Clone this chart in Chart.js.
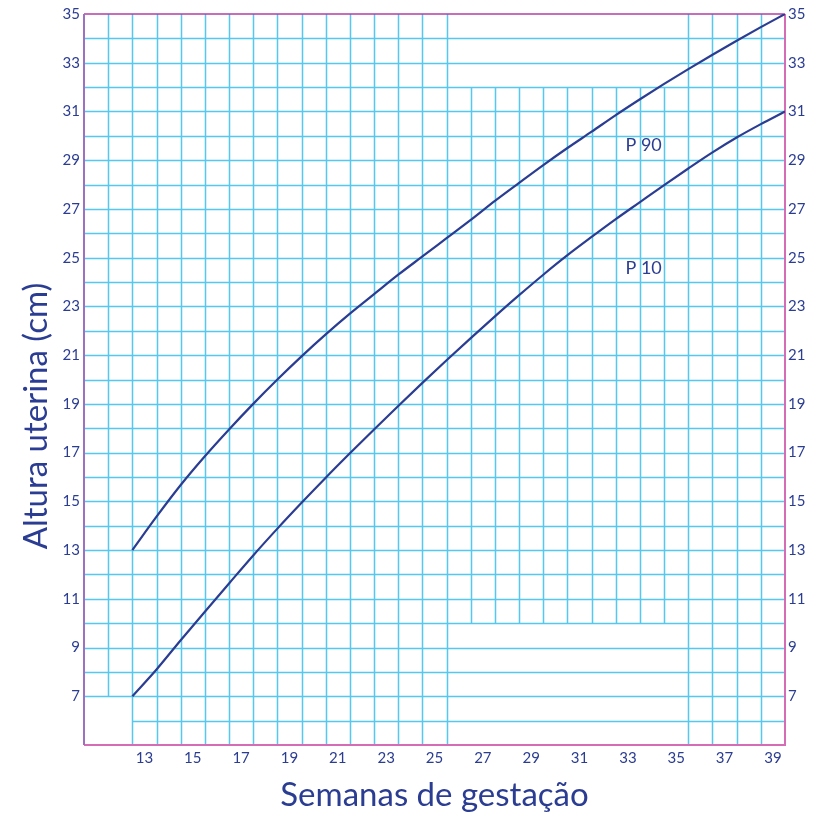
<!DOCTYPE html>
<html>
<head>
<meta charset="utf-8">
<script src="https://cdn.jsdelivr.net/npm/chart.js@4"></script>
<style>
  html,body{margin:0;padding:0;background:#fff;}
  #wrap{width:825px;height:815px;}
</style>
</head>
<body>
<div id="wrap"><canvas id="c" width="825" height="815"></canvas></div>
<script>
// ── datos ───────────────────────────────
const semanas=[12.5,13.5,14.5,15.5,16.5,17.5,18.5,19.5,20.5,21.5,22.5,23.5,24.5,25.5,26.5,27.5,28.5,29.5,30.5,31.5,32.5,33.5,34.5,35.5,36.5,37.5,38.5,39.5];
const p90=[13.0,14.37,15.67,16.85,17.95,19.0,20.0,20.95,21.85,22.7,23.5,24.3,25.05,25.8,26.55,27.33,28.07,28.8,29.5,30.17,30.85,31.5,32.13,32.74,33.33,33.9,34.46,35.0];
const p10=[7.0,8.1,9.3,10.47,11.63,12.78,13.88,14.94,15.97,16.97,17.95,18.91,19.86,20.79,21.7,22.59,23.46,24.3,25.1,25.85,26.58,27.28,27.98,28.66,29.32,29.93,30.48,31.0];
const xTicks=[13,15,17,19,21,23,25,27,29,31,33,35,37,39];
const yTicks=[7,9,11,13,15,17,19,21,23,25,27,29,31,33,35];
const rotulos=['P 90','P 10'];

const AZUL='#2b3d92', GRID='#55c8f0';
const FONT='Lato, "DejaVu Sans", sans-serif';

// cuadrícula irregular del gráfico original (en unidades: semana / cm)
// verticales: [semana, desde, hasta]
const gridV=[[11.5,7,35]];
for(let s=12.5;s<=25.5;s++)gridV.push([s,5,35]);
for(let s=26.5;s<=34.5;s++)gridV.push([s,10,32]);
for(let s=35.5;s<=38.5;s++)gridV.push([s,5,35]);
// horizontales: [cm, desde, hasta]
const gridH=[[6,12.5,39.5]];
for(let v=7;v<=34;v++)gridH.push([v,10.5,39.5]);
const rotPos=[[32.9,29.6],[32.9,24.55]];

const papel={
  id:'papel',
  beforeDatasetsDraw(chart){
    const {ctx,chartArea:a,scales:{x,y}}=chart;
    ctx.save();
    ctx.strokeStyle=GRID;ctx.lineWidth=1.5;
    gridV.forEach(([s,y0,y1])=>{
      const px=Math.round(x.getPixelForValue(s))+0.5;
      ctx.beginPath();ctx.moveTo(px,y.getPixelForValue(y0));ctx.lineTo(px,y.getPixelForValue(y1));ctx.stroke();
    });
    gridH.forEach(([v,x0,x1])=>{
      const py=Math.round(y.getPixelForValue(v))+0.5;
      ctx.beginPath();ctx.moveTo(x.getPixelForValue(x0),py);ctx.lineTo(x.getPixelForValue(x1),py);ctx.stroke();
    });
    // bordes
    ctx.lineWidth=2;
    ctx.strokeStyle='#d46cb6';
    ctx.beginPath();ctx.moveTo(a.left,a.bottom);ctx.lineTo(a.right,a.bottom);ctx.lineTo(a.right,a.top);ctx.stroke();
    ctx.strokeStyle='#b03ea6';ctx.lineWidth=1.5;
    ctx.beginPath();ctx.moveTo(a.left,a.top);ctx.lineTo(a.right,a.top);ctx.stroke();
    ctx.strokeStyle='#9e70c2';ctx.lineWidth=2;
    ctx.beginPath();ctx.moveTo(a.left,a.top);ctx.lineTo(a.left,a.bottom);ctx.stroke();
    ctx.restore();
  },
  afterDatasetsDraw(chart){
    const {ctx,chartArea:a,scales:{x,y}}=chart;
    ctx.save();
    ctx.fillStyle=AZUL;
    ctx.font='18px '+FONT;ctx.textAlign='left';ctx.textBaseline='middle';
    rotulos.forEach((t,i)=>ctx.fillText(t,x.getPixelForValue(rotPos[i][0]),y.getPixelForValue(rotPos[i][1])));
    // títulos de ejes
    ctx.font='33px '+FONT;ctx.textAlign='center';
    ctx.fillText('Semanas de gestação',(a.left+a.right)/2,795);
    ctx.translate(36,416);ctx.rotate(-Math.PI/2);
    ctx.fillText('Altura uterina (cm)',0,0);
    ctx.restore();
  }
};

const tickFont={family:FONT,size:15};
const fijos=v=>v.map(n=>({value:n}));
const sinGrid={display:false,drawTicks:false};

new Chart(document.getElementById('c'),{
  type:'line',
  data:{datasets:[
    {label:'P 90',data:semanas.map((s,i)=>({x:s,y:p90[i]})),borderColor:AZUL,borderWidth:2.2,pointRadius:0,fill:false,cubicInterpolationMode:'monotone'},
    {label:'P 10',data:semanas.map((s,i)=>({x:s,y:p10[i]})),borderColor:AZUL,borderWidth:2.2,pointRadius:0,fill:false,cubicInterpolationMode:'monotone'}
  ]},
  options:{
    responsive:false,animation:false,
    layout:{padding:{top:14,right:0,left:0,bottom:0}},
    plugins:{legend:{display:false},tooltip:{enabled:false}},
    scales:{
      x:{type:'linear',min:10.5,max:39.5,position:'bottom',
        grid:sinGrid,border:{display:false},
        afterBuildTicks:s=>{s.ticks=fijos(xTicks);},
        afterFit:s=>{s.height=70;},
        ticks:{color:AZUL,font:tickFont,padding:4,maxRotation:0,autoSkip:false}},
      y:{type:'linear',min:5,max:35,position:'left',
        grid:sinGrid,border:{display:false},
        afterBuildTicks:s=>{s.ticks=fijos(yTicks);},
        afterFit:s=>{s.width=84;},
        ticks:{color:AZUL,font:tickFont,padding:4,autoSkip:false}},
      y2:{type:'linear',min:5,max:35,position:'right',
        grid:sinGrid,border:{display:false},
        afterBuildTicks:s=>{s.ticks=fijos(yTicks);},
        afterFit:s=>{s.width=40;},
        ticks:{color:AZUL,font:tickFont,padding:3,autoSkip:false}}
    }
  },
  plugins:[papel]
});
</script>
</body>
</html>
